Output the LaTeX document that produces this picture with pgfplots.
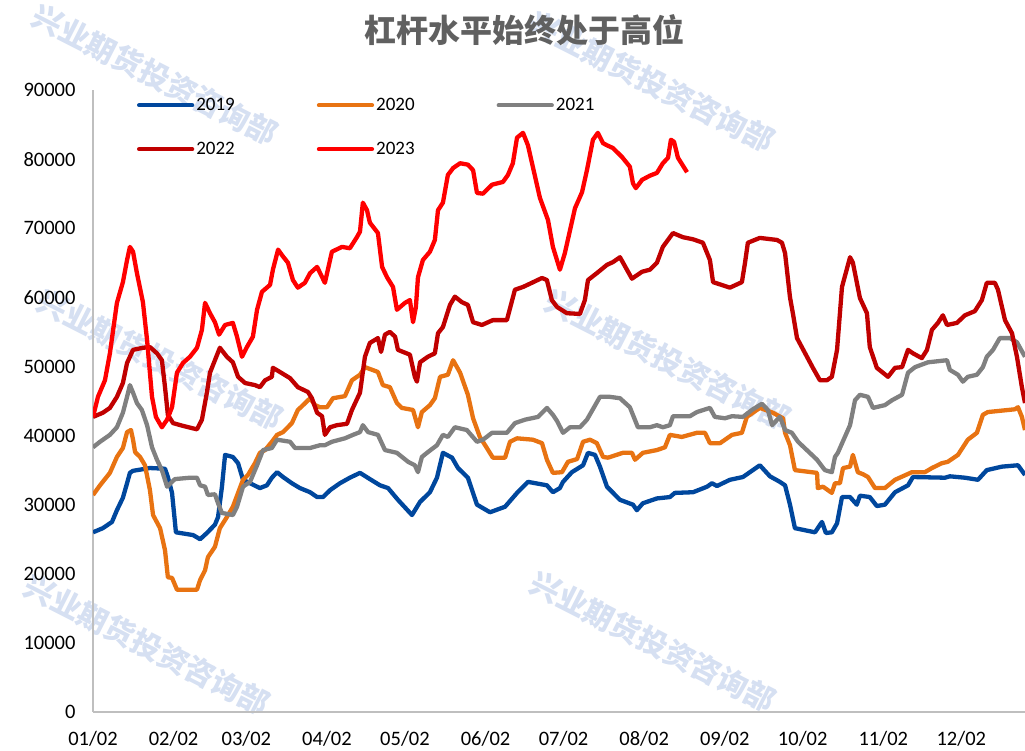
\documentclass[border=0pt]{standalone}
\usepackage{pgfplots}
\pgfplotsset{compat=1.18}
\usepackage{fontspec}
\setmainfont{Carlito}
\newfontfamily\cjk{Noto Sans CJK SC}

\definecolor{c2019}{RGB}{0,71,157}
\definecolor{c2020}{RGB}{232,115,18}
\definecolor{c2021}{RGB}{128,128,128}
\definecolor{c2022}{RGB}{192,0,0}
\definecolor{c2023}{RGB}{255,0,0}
\definecolor{axisgray}{RGB}{191,191,191}
\definecolor{titlegray}{RGB}{96,96,96}
\definecolor{wm}{RGB}{214,224,242}

\begin{document}
\begin{tikzpicture}[x=1pt,y=1pt]
\useasboundingbox (0,0) rectangle (1025,751);

% watermarks
\foreach \wx/\wy in {155/75, 160/360, 147/645, 668/360, 653/642, 652/82}
  \node[rotate=-27, text=wm, font=\cjk\bfseries\fontsize{30}{30}\selectfont] at (\wx,751-\wy) {兴业期货投资咨询部};

\node[font=\cjk\bfseries\fontsize{32}{32}\selectfont, text=titlegray] at (524,751-30) {杠杆水平始终处于高位};

\begin{axis}[
    at={(93pt,39pt)}, anchor=south west,
    width=932pt, height=622pt, scale only axis,
    xmin=0, xmax=358.5, ymin=0, ymax=90000,
    axis lines*=left,
    axis line style={draw=axisgray, line width=1.5pt, -},
    major tick length=0pt,
    xtick={0,31,59,90,120,151,181,212,243,273,304,334},
    xticklabels={01/02,02/02,03/02,04/02,05/02,06/02,07/02,08/02,09/02,10/02,11/02,12/02},
    ytick={0,10000,...,90000},
    scaled y ticks=false,
    /pgf/number format/fixed,
    /pgf/number format/1000 sep={},
    /pgf/number format/assume math mode=true,
    tick label style={font=\fontsize{20.5}{20.5}\selectfont, text=black},
    yticklabel style={anchor=east, xshift=-14pt},
    xticklabel style={anchor=north, yshift=-16pt},
    legend style={at={(0.047,0.99)}, anchor=north west, draw=none, fill=none,
        font=\fontsize{19}{19}\selectfont, legend columns=3,
        /tikz/every even column/.append style={column sep=80pt},
        row sep=26pt, inner sep=0pt},
    legend cell align=left,
    legend image code/.code={\draw[#1, line cap=round] (0pt,0pt) -- (53pt,0pt);},
    every axis plot/.append style={line width=4.3pt, line join=round, mark=none},
]

\addplot[c2019] coordinates {
(0,26000) (3.8,26600) (7.3,27500) (9.2,29200) (11.5,31000) (13.1,33100) (14.2,34600) (15.4,34900)
(21.9,35300) (27.7,35200) (28.8,34000) (30.4,31700) (31.9,26000) (38.5,25600) (41.2,25000) (43.8,25900)
(46.9,27100) (48.1,28200) (49.6,32600) (50.8,37200) (53.8,36900) (55.8,36000) (57.7,33600) (60.4,33100)
(64.2,32400) (66.9,32800) (68.8,33900) (70.8,34700) (73.1,34000) (76.5,33100) (79.6,32400) (83.5,31800)
(86.2,31100) (88.5,31100) (91.2,32100) (95,33100) (98.8,33900) (102.7,34600) (106.5,33700) (110.4,32800)
(113.5,32400) (117.3,30700) (122.7,28500) (125.8,30400) (129.6,31800) (132.3,33900) (134.6,37500) (138.1,36800)
(140.4,35300) (144.2,33900) (147.7,30000) (152.7,28900) (158.5,29700) (163.1,31700) (167.3,33300) (174.6,32800)
(176.9,31800) (179.6,32400) (180.8,33300) (184.2,34700) (188.5,35700) (190.4,37500) (193.1,37200) (195,35500)
(197.7,32600) (202.7,30700) (207.7,30000) (209.2,29200) (211.5,30200) (216.9,30900) (221.9,31100) (223.8,31700)
(230.8,31800) (236.2,32600) (238.1,33100) (240,32700) (245,33600) (250,34000) (256.5,35700) (260.4,34100)
(264.2,33300) (266.2,32800) (268.1,30000) (270,26600) (277.7,26000) (280.4,27500) (281.9,25900) (284.2,26000)
(286.2,27300) (288.1,31100) (291.2,31100) (293.8,30000) (295,31300) (298.8,31100) (301.5,29800) (304.6,30000)
(308.5,31800) (313.5,32800) (315.4,34000) (327.7,33900) (329.6,34100) (335.4,33900) (340.4,33600) (343.8,35000)
(349.6,35500) (355.8,35700) (358.5,34300)
};
\addlegendentry{2019}

\addplot[c2020] coordinates {
(0,31400) (2.7,32800) (6.5,34600) (9.2,36900) (11.5,38200) (13.1,40500) (14.6,40800) (15.4,39400)
(16.2,37600) (18.1,36900) (20,35700) (21.9,32100) (23.1,28500) (25.8,26600) (27.7,23400) (28.8,19500)
(30.4,19400) (32.3,17700) (40,17700) (41.2,19100) (43.1,20500) (44.2,22400) (46.9,23900) (48.8,26600)
(51.5,28200) (53.8,29700) (55.8,31700) (57.7,33600) (59.6,34300) (62.3,36000) (64.2,37500) (66.2,37900)
(68.8,39100) (70.8,40100) (73.1,40500) (76.5,41800) (78.8,43700) (80.8,44400) (83.5,45400) (85.4,44400)
(87.3,44100) (90,44100) (92.3,45400) (96.9,45700) (99.6,48000) (102.7,48800) (104.6,49900) (109.6,49200)
(111.5,47300) (114.2,47000) (116.9,44700) (118.8,44000) (123.1,43700) (125,41200) (126.5,43400) (129.6,44400)
(131.5,45400) (133.5,48500) (136.5,48800) (138.5,50900) (141.2,49100) (144.2,45900) (146.2,42500) (148.8,39800)
(151.5,38200) (153.8,36800) (158.5,36800) (160.4,39100) (163.1,39600) (169.2,39400) (172.7,38900) (174.6,36500)
(176.9,34600) (180.4,34700) (182.7,36200) (186.2,36600) (188.5,39100) (191.2,39400) (193.8,38900) (196.2,36900)
(198.1,36800) (203.8,37500) (207.3,37500) (208.5,36500) (211.5,37500) (216.9,37900) (220,38300) (221.9,40100)
(226.5,39800) (232.3,40400) (235.4,40400) (237.3,38900) (241.2,38900) (245.8,40100) (249.6,40400) (251.5,42700)
(256.5,44000) (261.5,43300) (265.4,42500) (266.2,40400) (268.1,38600) (270,35000) (278.5,34600) (278.8,32400)
(280.8,32600) (284.2,31700) (285.4,33100) (287.3,33100) (288.5,35300) (291.2,35500) (292.3,37200) (294.2,34700)
(296.2,34400) (298.1,34000) (300.8,32400) (304.6,32400) (308.5,33600) (315,34700) (320,34700) (322.7,35300)
(326.5,36000) (328.8,36200) (332.7,37200) (336.5,39400) (340,40400) (342.3,43000) (344.2,43400) (354.6,43800)
(355.8,44100) (357.3,42700) (358.5,40800)
};
\addlegendentry{2020}

\addplot[c2021] coordinates {
(0,38300) (2.7,39100) (6.5,40100) (9.2,41200) (11.5,43300) (13.1,45600) (14.2,47300) (15.4,46200)
(16.9,44700) (18.8,43700) (20.8,41500) (22.7,38300) (24.6,36500) (26.5,35000) (28.5,32600) (31.5,33700)
(37.3,33900) (40,33900) (41.2,32800) (43.1,32600) (44.2,31400) (46.9,31500) (48.1,30200) (49.6,28800)
(53.8,28500) (55.4,29700) (57.7,32600) (60.4,33300) (63.1,35700) (65.4,37900) (68.8,38200) (70.8,39400)
(75.8,39100) (77.7,38200) (83.5,38200) (87.3,38600) (89.2,38600) (91.9,39100) (96.9,39600) (100,40100)
(102.7,40500) (103.8,41500) (105.8,40500) (109.6,40100) (112.3,37900) (116.9,37500) (121.2,36200) (123.8,35700)
(125,34700) (126.5,36900) (128.8,37600) (132.3,38600) (134.6,40100) (136.5,39800) (139.2,41200) (143.8,40800)
(147.7,39100) (150,39400) (153.5,40400) (159.2,40400) (162.3,41800) (166.2,42300) (171.2,42700) (174.6,44000)
(176.9,43000) (178.5,42100) (180.8,40400) (183.5,41200) (187.3,41200) (190,42300) (195,45600) (198.8,45600)
(202.7,45400) (206.5,44100) (209.6,41200) (214.2,41200) (216.9,41500) (219.2,41200) (221.9,41500) (223.1,42800)
(229.6,42800) (232.3,43400) (237.3,44000) (239.2,42700) (243.1,42500) (245.8,42800) (250,42700) (253.8,43800)
(257.3,44600) (259.6,43700) (261.2,41500) (264.2,42700) (266.2,40800) (268.8,40400) (271.2,39100) (278.5,36500)
(281.5,35000) (284.2,34700) (285.4,36900) (286.5,37500) (291.2,41500) (293.1,45100) (295,45900) (298.1,45600)
(300,44000) (304.6,44400) (307.3,45100) (311.2,45900) (313.5,49100) (316.2,49900) (321.2,50600) (328.5,50900)
(329.6,49500) (332.7,48800) (334.6,47800) (336.5,48500) (340,48800) (342.3,49900) (343.8,51400) (346.2,52400)
(348.8,54100) (352.7,54100) (355.4,53500) (358.5,51400)
};
\addlegendentry{2021}

\addplot[c2022] coordinates {
(0,42700) (3.8,43300) (6.5,44000) (9.2,45600) (11.5,47600) (13.1,50500) (15.4,52400) (19.2,52700)
(21.9,52800) (24.6,51900) (26.5,50900) (27.7,47000) (28.8,43000) (30.8,41800) (34.6,41400) (40,40900)
(41.9,42300) (43.8,46200) (45,49100) (46.9,50900) (48.8,52700) (51.5,51400) (53.8,50600) (55.8,48500)
(58.5,47600) (62.3,47300) (64.2,47000) (66.2,48000) (68.8,48500) (69.2,49800) (71.9,49200) (75.8,48300)
(78.8,47000) (82.7,46300) (84.2,45400) (86.2,43300) (88.1,42800) (89.2,40100) (91.2,41200) (93.8,41500)
(97.7,41700) (99.6,43700) (102.7,46200) (104.6,51400) (106.5,53400) (109.6,54100) (110.8,52100) (112.3,54600)
(114.2,55000) (116.2,54300) (117.3,52400) (121.9,51700) (123.8,48500) (124.6,47800) (125.8,50600) (128.8,51400)
(131.5,51900) (132.7,54800) (134.6,55700) (137.3,58900) (139.2,60100) (141.9,59300) (144.2,58900) (146.2,56400)
(149.6,56000) (153.8,56700) (159.2,56700) (162.3,61100) (165.4,61500) (168.8,62100) (172.7,62800) (174.6,62500)
(176.5,59600) (178.5,58600) (182.3,57700) (187.3,57600) (189.2,59600) (190.4,62500) (193.8,63500) (197.7,64700)
(200,65100) (202.7,65800) (207.3,62700) (211.2,63700) (214.2,64000) (216.9,65000) (219.2,67300) (223.1,69300)
(226.9,68700) (230.8,68400) (234.6,67900) (237.3,65400) (238.5,62200) (245,61400) (249.6,62200) (250.8,65000)
(251.9,67900) (256.5,68600) (263.1,68300) (265,67900) (266.2,66400) (268.1,60000) (269.2,57700) (270.8,54100)
(276.9,49800) (279.6,48000) (282.3,48000) (284.2,48500) (286.2,52400) (288.1,61500) (291.2,65800) (292.3,65000)
(295,59900) (297.7,57700) (298.8,52800) (301.5,49800) (305.8,48500) (308.5,49800) (311.2,49900) (313.5,52400)
(315.4,51900) (318.8,51200) (320.8,52400) (322.7,55300) (325,56300) (326.9,57400) (328.5,56000) (332.3,56300)
(335.4,57400) (339.2,58000) (341.9,59600) (343.8,62100) (346.9,62100) (348.1,61100) (350.8,56700) (353.5,54800)
(355.4,51400) (357.3,47000) (358.5,44700)
};
\addlegendentry{2022}

\addplot[c2023] coordinates {
(0,42700) (1.9,45600) (4.6,48000) (6.5,51900) (9.2,59200) (11.5,62200) (13.1,65400) (14.2,67300)
(15.4,66600) (16.9,63500) (19.2,59300) (20.8,53800) (22.7,45600) (24.2,42700) (26.5,41200) (28.5,42300)
(30.4,44100) (32.3,49100) (34.6,50500) (37.3,51400) (40,52700) (41.9,55300) (43.1,59200) (45,57700)
(46.9,56400) (48.5,54600) (50.8,56000) (53.8,56300) (55.4,54300) (57.3,51400) (59.2,52800) (61.5,54300)
(63.1,58200) (65,60800) (68.1,61800) (69.2,64000) (71.2,66900) (72.7,66100) (75,65000) (76.9,62500)
(78.8,61400) (81.5,62100) (83.5,63500) (86.2,64400) (89.2,62100) (91.9,66600) (95.8,67300) (98.8,67100)
(101.5,68700) (102.7,69500) (103.8,73700) (105.4,72600) (106.5,70800) (109.6,69300) (111.2,64400) (113.1,62900)
(115.4,61500) (116.9,58200) (120,59200) (121.9,59600) (123.1,56400) (124.2,58600) (125,62900) (126.9,65400)
(129.6,66600) (131.5,68300) (132.7,72600) (134.6,73700) (136.5,77700) (138.5,78700) (141.2,79400) (144.2,79200)
(146.2,78400) (147.7,75100) (150,75000) (153.5,76300) (157.7,76700) (159.6,77700) (161.5,79400) (163.1,83100)
(165.4,83800) (167.3,82000) (171.9,74400) (175,71200) (176.9,67300) (179.6,64000) (181.5,66400) (185.4,72900)
(188.1,75200) (190,78400) (192.3,82800) (194.2,83800) (196.2,82300) (197.7,82000) (200,81600) (203.5,80300)
(206.5,78900) (207.7,76500) (208.8,75800) (211.2,77000) (214.2,77600) (216.9,78000) (219.2,79400) (221.2,80200)
(222.3,82800) (223.5,82500) (225,80200) (228.5,78100)
};
\addlegendentry{2023}

\end{axis}
\end{tikzpicture}
\end{document}
